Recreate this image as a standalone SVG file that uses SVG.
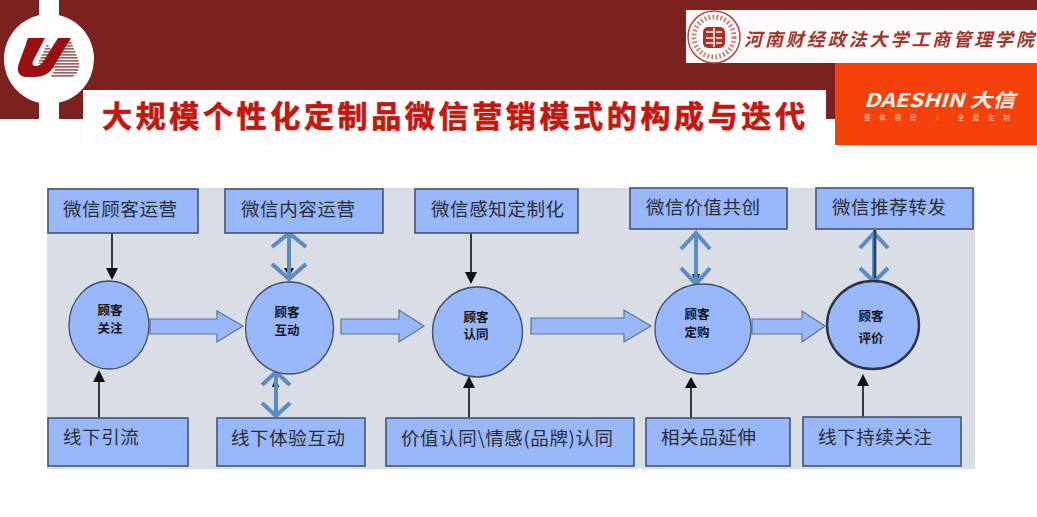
<svg xmlns="http://www.w3.org/2000/svg" width="1037" height="517" viewBox="0 0 1037 517">
<style>
text{font-family:"Noto Sans CJK SC","Noto Sans CJK JP",sans-serif}
.box{fill:#99b8fb;stroke:#44546e;stroke-width:1.6}
.cir{fill:#99b8fb;stroke:#3f4f68;stroke-width:1.3}
.lab{font-size:18.5px;fill:#2a2d36;letter-spacing:.6px}
.cl{font-size:12.5px;font-weight:700;fill:#14161e;text-anchor:middle}
.blk{fill:#99b8fb;stroke:#5f7390;stroke-width:1.2}
.thin{stroke:#111;stroke-width:1.6;fill:none}
.ah{fill:#111}
.dbl{stroke:#5a8bc4;stroke-width:4;fill:none}
</style>
<defs>
<pattern id="stripes" width="3" height="3" patternUnits="userSpaceOnUse">
<rect width="3" height="3" fill="#fbf5f5"/><rect width="3" height="1.700" fill="#95696b"/>
</pattern>
</defs>
<rect width="1037" height="517" fill="#fdfdfe"/>
<g id="header">
<rect width="1037" height="119" fill="#7c2020"/>
<rect x="83" y="90" width="743" height="60" fill="#fefefe"/>
<rect x="826" y="90" width="10" height="29" fill="#7c2020"/>
<rect x="39" y="0" width="20" height="130" fill="#fefefe"/>
<circle cx="49" cy="59" r="45" fill="#fefefe"/>
<path d="M58 47L68 38Q71 40 72 44L79 61Q81 74 70 78H50L56 68L48 70Z" fill="url(#stripes)"/>
<path d="M38 63L47 44L53 52L44 66Z" fill="url(#stripes)"/>
<path d="M28 38H45L33 61Q31 66 36 66Q40 66 43 62L58 38H71L52 69Q46 77 35 77H25Q15 75 19 63L26 44Q27 40 28 38Z" fill="#9a0f0f"/>
<rect x="686" y="10" width="351" height="53" fill="#fdfbfb"/>
<circle cx="714" cy="37" r="26" fill="none" stroke="#b5483f" stroke-width="1.500"/>
<circle cx="714" cy="37" r="20" fill="none" stroke="#c38d86" stroke-width="5" stroke-dasharray="2 2"/>
<rect x="703" y="27" width="22" height="21" rx="5" fill="#b02f24"/>
<path d="M706 32h7M716 32h6M706 38h7M716 38h6M706 43h7M716 43h6M714 28v19" stroke="#fdfbfb" stroke-width="1.600" fill="none"/>
<text x="744" y="46" font-size="18" font-style="italic" font-weight="700" fill="#a3352e" textLength="290" lengthAdjust="spacing">河南财经政法大学工商管理学院</text>
<rect x="835" y="63" width="202" height="82" fill="#f5420a"/>
<text x="864" y="107" font-size="19" font-weight="700" font-style="italic" fill="#fdf4ef" textLength="151" lengthAdjust="spacingAndGlyphs">DAESHIN 大信</text>
<text x="864" y="120" font-size="6.500" fill="#fbd0bd" textLength="146" lengthAdjust="spacing">整体厨房 / 全屋定制</text>
<text x="102" y="127" font-size="30" font-weight="700" fill="#c5170f" stroke="#c5170f" stroke-width=".7" textLength="703" lengthAdjust="spacing">大规模个性化定制品微信营销模式的构成与迭代</text>
</g>
<rect id="panel" x="47" y="188" width="928" height="281" fill="#d9dde6"/>
<g id="connectors">
<path class="thin" d="M112 233V270M99 418V381M471 230V272M469 418V387M691 418V388M863 417V386"/>
<path class="ah" d="M106 268H118L112 280ZM93 382H105L99 370ZM465 272H477L471 284ZM463 388H475L469 376ZM685 388H697L691 377ZM857 386H869L863 374Z"/>
<g class="blk">
<path d="M150 319H217V311L243 326L217 342V334H150Z"/>
<path d="M341 319H399V310L424 326L399 342V334H341Z"/>
<path d="M531 318H624V310L651 326L624 342V334H531Z"/>
<path d="M752 319H802V311L825 326L802 342V334H752Z"/>
</g>
<path class="ah" d="M284 268H294L289 277ZM272 387L276 376L279 387ZM692 274H700L696 284Z"/>
<g class="dbl">
<path d="M289 234V279M272 247L289 233L306 247M272 264L289 279L306 264"/>
<path d="M276 372V415M262 385L276 372L290 385M262 403L276 416L290 403"/>
<path d="M696 232V284M681 249L696 233L710 249M681 268L696 284L710 268"/>
<path d="M874 232V282M860 248L874 233L888 248M860 268L874 282L888 268"/>
</g>
<path d="M875 230V278" stroke="#27405f" stroke-width="2.600" fill="none"/>
</g>
<g id="n1"><rect class="box" x="48" y="189" width="150" height="44"/><text class="lab" x="63" y="216">微信顾客运营</text></g>
<g id="n2"><rect class="box" x="225" y="189" width="158" height="44"/><text class="lab" x="241" y="216">微信内容运营</text></g>
<g id="n3"><rect class="box" x="415" y="189" width="163" height="44"/><text class="lab" x="431" y="216">微信感知定制化</text></g>
<g id="n4"><rect class="box" x="630" y="188" width="157" height="41"/><text class="lab" x="646" y="214">微信价值共创</text></g>
<g id="n5"><rect class="box" x="816" y="188" width="157" height="41"/><text class="lab" x="832" y="214">微信推荐转发</text></g>
<g id="n6"><rect class="box" x="48" y="418" width="140" height="48"/><text class="lab" x="63" y="444">线下引流</text></g>
<g id="n7"><rect class="box" x="217" y="418" width="148" height="48"/><text class="lab" x="231" y="445">线下体验互动</text></g>
<g id="n8"><rect class="box" x="386" y="418" width="248" height="48"/><text class="lab" x="401" y="445">价值认同\情感(品牌)认同</text></g>
<g id="n9"><rect class="box" x="646" y="418" width="144" height="48"/><text class="lab" x="661" y="444">相关品延伸</text></g>
<g id="n10"><rect class="box" x="803" y="417" width="158" height="49"/><text class="lab" x="818" y="444">线下持续关注</text></g>
<g id="c1"><ellipse class="cir" cx="109" cy="325" rx="40" ry="44"/><text class="cl" x="110" y="315">顾客</text><text class="cl" x="110" y="333">关注</text></g>
<g id="c2"><ellipse class="cir" cx="289.500" cy="328" rx="44" ry="46"/><text class="cl" x="287" y="317">顾客</text><text class="cl" x="287" y="335">互动</text></g>
<g id="c3"><ellipse class="cir" cx="477.500" cy="332" rx="45" ry="45"/><text class="cl" x="476" y="322">顾客</text><text class="cl" x="476" y="339">认同</text></g>
<g id="c4"><ellipse class="cir" cx="703" cy="329" rx="48" ry="45"/><text class="cl" x="697" y="319">顾客</text><text class="cl" x="697" y="337">定购</text></g>
<g id="c5"><ellipse class="cir" cx="873" cy="325" rx="46" ry="44" style="stroke-width:2.4;stroke:#2b3346"/><text class="cl" x="871" y="321">顾客</text><text class="cl" x="871" y="343">评价</text></g>
</svg>
